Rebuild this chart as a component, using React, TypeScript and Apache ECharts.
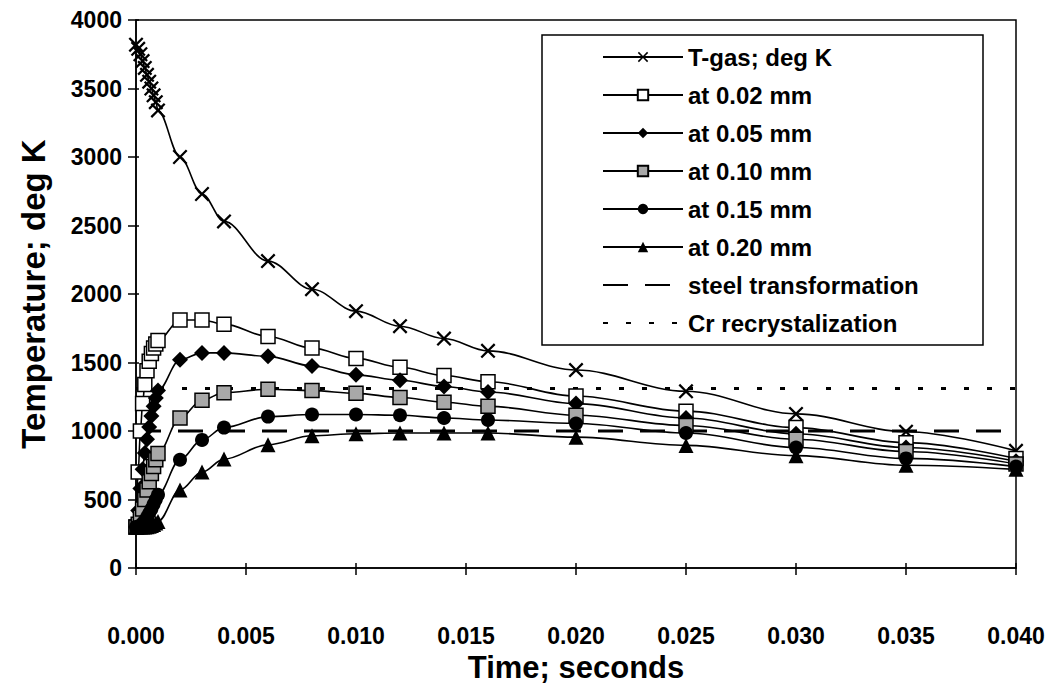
import React, { useEffect, useRef } from "react";
import * as echarts from "echarts";

// time (s)
const times = [
  0, 0.0001, 0.0002, 0.0003, 0.0004, 0.0005, 0.0006, 0.0007, 0.0008, 0.0009, 0.001,
  0.002, 0.003, 0.004, 0.006, 0.008, 0.01, 0.012, 0.014, 0.016, 0.02, 0.025, 0.03, 0.035, 0.04,
];
// temperatures (deg K)
const tGas = [3820, 3790, 3750, 3700, 3650, 3600, 3550, 3500, 3450, 3400, 3340, 3000, 2730, 2530, 2240, 2035, 1875, 1765, 1675, 1585, 1445, 1290, 1125, 995, 855];
const at002 = [300, 700, 1000, 1200, 1340, 1440, 1510, 1565, 1605, 1635, 1660, 1810, 1810, 1780, 1690, 1605, 1530, 1465, 1405, 1360, 1255, 1145, 1025, 915, 800];
const at005 = [300, 420, 580, 720, 840, 940, 1030, 1110, 1180, 1240, 1295, 1520, 1570, 1570, 1545, 1475, 1410, 1370, 1325, 1285, 1200, 1095, 980, 880, 780];
const at010 = [300, 320, 370, 430, 500, 570, 630, 690, 740, 790, 835, 1095, 1225, 1280, 1305, 1295, 1275, 1245, 1210, 1180, 1115, 1040, 940, 850, 760];
const at015 = [300, 300, 310, 325, 345, 370, 400, 430, 465, 500, 535, 790, 935, 1025, 1105, 1120, 1120, 1115, 1095, 1080, 1055, 985, 880, 800, 740];
const at020 = [300, 300, 300, 300, 300, 302, 305, 310, 318, 328, 340, 570, 700, 795, 900, 965, 980, 985, 985, 985, 955, 895, 820, 750, 720];
const steelTransformation = 1000;
const crRecrystalization = 1310;
const xRange = [0, 0.04];

const FONT = "'Liberation Sans', Arial, sans-serif";
const CROSS = "path://M0,1.5 L1.5,0 L7,5.5 L12.5,0 L14,1.5 L8.5,7 L14,12.5 L12.5,14 L7,8.5 L1.5,14 L0,12.5 L5.5,7 Z";

const pair = (vals: number[]) => times.map((t, i) => [t, vals[i]]);

export default function App() {
  const ref = useRef<HTMLDivElement>(null);
  useEffect(() => {
    document.body.style.margin = "0";
    const chart = echarts.init(ref.current!, undefined, { renderer: "svg" });
    const lineBase = (name: string, vals: number[], symbol: string, size: number, fill: string) => ({
      name,
      type: "line",
      data: pair(vals),
      smooth: 0.35,
      smoothMonotone: "x",
      symbol,
      symbolSize: size,
      showAllSymbol: true,
      lineStyle: { color: "#000", width: 1.6 },
      itemStyle: { color: fill, borderColor: "#000", borderWidth: fill === "#000" ? 0 : 1.5 },
      emphasis: { disabled: true },
      z: 3,
    });
    const refLine = (name: string, level: number, dash: number[], width: number) => ({
      name,
      type: "line",
      data: xRange.map((x) => [x, level]),
      symbol: "rect",
      showSymbol: false,
      symbolSize: 2,
      lineStyle: { color: "#000", width, type: dash },
      itemStyle: { color: "rgba(255,255,255,0)", borderColor: "rgba(255,255,255,0)", borderWidth: 0 },
      emphasis: { disabled: true },
      z: 2,
    });
    const names = [
      "T-gas; deg K",
      "at 0.02 mm",
      "at 0.05 mm",
      "at 0.10 mm",
      "at 0.15 mm",
      "at 0.20 mm",
      "steel transformation",
      "Cr recrystalization",
    ];
    chart.setOption({
      animation: false,
      backgroundColor: "#fff",
      grid: { left: 136, right: 34, top: 20, bottom: 122, show: true, borderColor: "#000", borderWidth: 1.5 },
      xAxis: [
        {
          type: "value",
          min: 0,
          max: 0.04,
          interval: 0.005,
          name: "Time; seconds",
          nameLocation: "middle",
          nameGap: 80,
          nameTextStyle: { fontSize: 31, fontWeight: "bold", color: "#000", fontFamily: FONT },
          axisLine: { lineStyle: { color: "#000", width: 1.5 } },
          axisTick: { show: true, inside: false, length: 7, lineStyle: { color: "#000", width: 1.5 } },
          axisLabel: { margin: 56, fontSize: 23, fontWeight: "bold", color: "#000", fontFamily: FONT, formatter: (v: number) => v.toFixed(3) },
          splitLine: { show: false },
        },
        {
          type: "value",
          min: 0,
          max: 0.04,
          interval: 0.005,
          position: "bottom",
          axisLine: { show: false },
          axisTick: { show: true, inside: true, length: 5, lineStyle: { color: "#000", width: 1.5 } },
          axisLabel: { show: false },
          splitLine: { show: false },
        },
      ],
      yAxis: [
        {
          type: "value",
          min: 0,
          max: 4000,
          interval: 500,
          name: "Temperature; deg K",
          nameLocation: "middle",
          nameGap: 86,
          nameTextStyle: { fontSize: 33, fontWeight: "bold", color: "#000", fontFamily: FONT },
          axisLine: { show: true, lineStyle: { color: "#000", width: 1.5 } },
          axisTick: { show: true, inside: false, length: 8, lineStyle: { color: "#000", width: 1.5 } },
          axisLabel: { margin: 14, fontSize: 23, fontWeight: "bold", color: "#000", fontFamily: FONT, formatter: (v: number) => String(v) },
          splitLine: { show: false },
        },
        {
          type: "value",
          min: 0,
          max: 4000,
          interval: 500,
          position: "left",
          axisLine: { show: false },
          axisTick: { show: true, inside: true, length: 3, lineStyle: { color: "#000", width: 1.5 } },
          axisLabel: { show: false },
          splitLine: { show: false },
        },
      ],
      legend: {
        orient: "vertical",
        left: 602,
        top: 44,
        padding: 0,
        itemWidth: 80,
        itemHeight: 13,
        itemGap: 12,
        z: 6,
        selectedMode: false,
        data: names,
        textStyle: { fontSize: 24, fontWeight: "bold", color: "#000", fontFamily: FONT, lineHeight: 26 },
      },
      graphic: [
        {
          type: "rect",
          z: 5,
          shape: { x: 542, y: 35, width: 441, height: 310 },
          style: { fill: "#fff", stroke: "#000", lineWidth: 1.5 },
        },
      ],
      series: [
        refLine(names[6], steelTransformation, [25, 17], 3),
        refLine(names[7], crRecrystalization, [5, 18], 3),
        lineBase(names[0], tGas, CROSS, 15, "#000"),
        lineBase(names[1], at002, "rect", 14, "#fff"),
        lineBase(names[2], at005, "diamond", 16, "#000"),
        lineBase(names[3], at010, "rect", 14, "#a8a8a8"),
        lineBase(names[4], at015, "circle", 14, "#000"),
        lineBase(names[5], at020, "triangle", 15, "#000"),
      ],
    });
    return () => chart.dispose();
  }, []);
  return <div ref={ref} style={{ width: 1050, height: 690 }} />;
}
